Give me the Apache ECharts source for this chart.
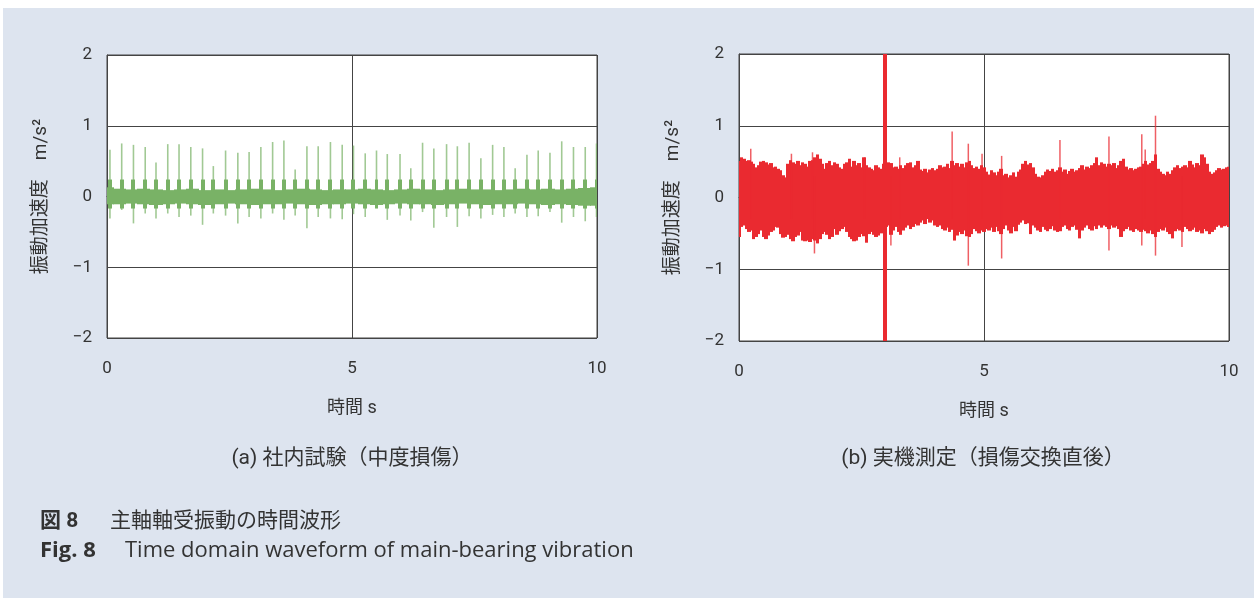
<!DOCTYPE html>
<html>
<head>
<meta charset="utf-8">
<title>主軸軸受振動の時間波形</title>
<script src="https://cdn.jsdelivr.net/npm/echarts/dist/echarts.min.js"></script>
<style>
  html, body { margin: 0; padding: 0; background: #fff; }
  #main { position: absolute; left: 3px; top: 8px; width: 1251px; height: 590px; background: #dde4ef; }
</style>
</head>
<body>
<div id="main"></div>
<script>
// 軸の目盛
var xTicks = [0, 5, 10];
var yTicks = [-2, -1, 0, 1, 2];

// (a) 社内試験: 0.25 s ごとのベース振動の上下包絡 [m/s2]
var aBandStep = 0.25;
var aBandHi = [0.13,0.11,0.10,0.11,0.10,0.09,0.10,0.11,0.09,0.10,0.09,0.10,0.11,0.10,0.09,0.10,0.11,0.10,0.09,0.10,
  0.10,0.11,0.10,0.09,0.10,0.11,0.10,0.09,0.10,0.11,0.10,0.10,0.09,0.10,0.11,0.10,0.11,0.10,0.11,0.12,0.13];
var aBandLo = [-0.11,-0.11,-0.10,-0.11,-0.12,-0.11,-0.10,-0.11,-0.12,-0.11,-0.10,-0.11,-0.12,-0.11,-0.11,-0.10,-0.11,-0.12,-0.11,-0.11,
  -0.10,-0.11,-0.12,-0.11,-0.10,-0.11,-0.11,-0.12,-0.11,-0.10,-0.11,-0.12,-0.11,-0.11,-0.10,-0.11,-0.12,-0.11,-0.12,-0.13,-0.13];

// (a) 衝撃パルス: 時刻 [s], 正側ピーク, 負側ピーク
var aSpikeT = [0.06,0.30,0.54,0.78,1.00,1.24,1.47,1.71,1.95,2.17,2.42,2.67,2.90,3.14,3.38,3.61,3.84,4.08,4.31,4.56,4.80,
  5.03,5.27,5.50,5.72,5.98,6.20,6.44,6.67,6.93,7.15,7.39,7.63,7.87,8.10,8.33,8.57,8.80,9.04,9.28,9.52,9.76,9.99];
var aSpikeHi = [0.66,0.75,0.73,0.70,0.48,0.74,0.74,0.70,0.68,0.43,0.65,0.62,0.63,0.70,0.77,0.79,0.38,0.71,0.71,0.77,0.73,
  0.72,0.61,0.65,0.60,0.60,0.40,0.76,0.68,0.74,0.71,0.76,0.54,0.73,0.70,0.40,0.59,0.65,0.62,0.78,0.70,0.70,0.75];
var aSpikeLo = [-0.31,-0.19,-0.38,-0.24,-0.31,-0.24,-0.29,-0.27,-0.40,-0.24,-0.27,-0.38,-0.29,-0.31,-0.24,-0.33,-0.27,-0.45,-0.29,-0.31,-0.32,
  -0.25,-0.29,-0.15,-0.33,-0.27,-0.34,-0.22,-0.44,-0.29,-0.43,-0.28,-0.31,-0.26,-0.29,-0.24,-0.29,-0.28,-0.22,-0.37,-0.29,-0.35,-0.29];
// パルス根元の太い部分 (正側, 負側)
var aCoreHi = 0.24;
var aCoreLo = -0.17;

// (b) 実機測定: 0.05 s ごとの上下包絡
var bStep = 0.05;
var bHi = [
  0.51,0.56,0.54,0.51,0.52,0.50,0.47,0.42,0.45,0.50, 0.51,0.49,0.46,0.48,0.42,0.43,0.40,0.38,0.31,0.28,
  0.47,0.52,0.49,0.47,0.51,0.45,0.49,0.47,0.43,0.51, 0.52,0.56,0.60,0.54,0.47,0.40,0.48,0.51,0.45,0.49,
  0.47,0.42,0.40,0.47,0.49,0.54,0.43,0.51,0.45,0.48, 0.42,0.56,0.45,0.42,0.40,0.38,0.45,0.42,0.40,0.47,
  0.45,0.49,0.48,0.42,0.43,0.40,0.45,0.41,0.45,0.48, 0.49,0.42,0.45,0.51,0.39,0.37,0.40,0.35,0.39,0.41,
  0.38,0.40,0.45,0.42,0.43,0.47,0.41,0.51,0.45,0.48, 0.43,0.47,0.42,0.49,0.51,0.45,0.41,0.43,0.40,0.45,
  0.42,0.36,0.32,0.38,0.35,0.31,0.36,0.40,0.31,0.33, 0.28,0.31,0.35,0.29,0.36,0.39,0.47,0.51,0.46,0.48,
  0.42,0.33,0.29,0.28,0.31,0.36,0.39,0.37,0.40,0.36, 0.38,0.42,0.36,0.39,0.33,0.37,0.40,0.36,0.38,0.41,
  0.45,0.39,0.43,0.41,0.45,0.48,0.56,0.45,0.49,0.47, 0.43,0.47,0.45,0.48,0.41,0.45,0.51,0.54,0.43,0.39,
  0.41,0.38,0.40,0.42,0.43,0.47,0.51,0.46,0.48,0.51, 0.60,0.40,0.36,0.33,0.31,0.36,0.33,0.38,0.42,0.45,
  0.41,0.43,0.45,0.42,0.51,0.46,0.42,0.48,0.45,0.60, 0.56,0.47,0.36,0.33,0.35,0.38,0.41,0.39,0.40,0.42,
  0.43];
var bLo = [
  -0.55,-0.41,-0.39,-0.44,-0.48,-0.46,-0.58,-0.55,-0.51,-0.46, -0.55,-0.58,-0.53,-0.48,-0.46,-0.41,-0.42,-0.51,-0.56,-0.55,
  -0.52,-0.58,-0.61,-0.55,-0.53,-0.48,-0.60,-0.61,-0.60,-0.62, -0.58,-0.60,-0.64,-0.58,-0.51,-0.48,-0.52,-0.58,-0.55,-0.44,
  -0.52,-0.47,-0.44,-0.41,-0.48,-0.55,-0.58,-0.61,-0.60,-0.55, -0.51,-0.54,-0.63,-0.51,-0.48,-0.52,-0.55,-0.53,-0.50,-0.46,
  -0.41,-0.39,-0.52,-0.46,-0.41,-0.48,-0.52,-0.46,-0.42,-0.39, -0.44,-0.41,-0.37,-0.39,-0.35,-0.32,-0.37,-0.30,-0.35,-0.32,
  -0.39,-0.41,-0.39,-0.44,-0.46,-0.42,-0.48,-0.45,-0.60,-0.53, -0.48,-0.51,-0.46,-0.54,-0.55,-0.51,-0.44,-0.47,-0.50,-0.46,
  -0.48,-0.44,-0.46,-0.42,-0.48,-0.41,-0.47,-0.51,-0.44,-0.39, -0.46,-0.50,-0.41,-0.47,-0.38,-0.35,-0.32,-0.37,-0.36,-0.51,
  -0.39,-0.42,-0.46,-0.48,-0.41,-0.45,-0.47,-0.44,-0.40,-0.46, -0.48,-0.47,-0.41,-0.39,-0.44,-0.46,-0.41,-0.39,-0.45,-0.57,
  -0.46,-0.42,-0.39,-0.44,-0.46,-0.40,-0.44,-0.39,-0.42,-0.39, -0.41,-0.44,-0.39,-0.42,-0.40,-0.44,-0.55,-0.47,-0.44,-0.41,
  -0.46,-0.48,-0.44,-0.46,-0.48,-0.45,-0.47,-0.50,-0.46,-0.51, -0.55,-0.48,-0.44,-0.46,-0.42,-0.48,-0.51,-0.57,-0.47,-0.44,
  -0.46,-0.48,-0.41,-0.44,-0.47,-0.45,-0.42,-0.48,-0.46,-0.50, -0.44,-0.47,-0.51,-0.48,-0.45,-0.41,-0.39,-0.42,-0.40,-0.39,
  -0.41];

// (b) 目立つ単発ピーク
var bSpikeT  = [0.24,1.07,1.50,1.54,2.56,3.10,3.28,4.35,4.68,4.96,5.36,6.55,7.55,8.22,8.29,8.50,9.04];
var bSpikeHi = [0.68,0.61,0.63,0.30,0.56,0.30,0.56,0.92,0.75,0.61,0.58,0.80,0.85,0.88,0.67,1.14,0.30];
var bSpikeLo = [-0.30,-0.30,-0.30,-0.78,-0.30,-0.67,-0.30,-0.30,-0.95,-0.30,-0.85,-0.30,-0.74,-0.67,-0.30,-0.81,-0.69];
// (b) 振り切れた衝撃 (軸範囲外まで)
var bCutT = [2.97];

var green = '#79b266';
var red = '#ea2a30';
var lineCol = '#444';
var fontFam = 'Roboto, "Noto Sans CJK JP", sans-serif';

function toCols(tArr, loArr, hiArr) {
  return tArr.map(function (t, i) { return [t, loArr[i], hiArr[i]]; });
}
function stepCols(step, loArr, hiArr) {
  return hiArr.map(function (h, i) { return [i * step, loArr[i], h]; });
}

// 縦の帯 (lo..hi) を描く。snap=true ならピクセル境界に合わせて継ぎ目を消す
function colRender(widthFn, color, opacity, snap) {
  return function (params, api) {
    var t = api.value(0);
    var top = api.coord([t, api.value(2)]);
    var bot = api.coord([t, api.value(1)]);
    var w = widthFn(api);
    var x0 = top[0] - w / 2, x1 = top[0] + w / 2;
    if (snap) {
      x0 = Math.floor(x0);
      x1 = Math.max(Math.ceil(x1), x0 + 1);
    }
    return {
      type: 'rect',
      shape: { x: x0, y: top[1], width: x1 - x0, height: bot[1] - top[1] },
      style: { fill: color, opacity: opacity }
    };
  };
}

function colSeries(idx, data, widthFn, color, opacity, snap) {
  return {
    type: 'custom', xAxisIndex: idx, yAxisIndex: idx,
    data: data, clip: true, silent: true, animation: false,
    encode: { x: 0, y: [1, 2] },
    renderItem: colRender(widthFn, color, opacity, snap)
  };
}

function minusFmt(v) { return v < 0 ? '\u2212' + Math.abs(v) : String(v); }

function xAxisOf(idx) {
  return {
    gridIndex: idx, type: 'value',
    min: xTicks[0], max: xTicks[xTicks.length - 1], interval: xTicks[1] - xTicks[0],
    name: '時間 s', nameLocation: 'middle', nameGap: 62,
    nameTextStyle: { fontSize: 18, color: '#333', fontFamily: fontFam },
    axisLine: { show: true, lineStyle: { color: lineCol } },
    axisTick: { show: false },
    axisLabel: { fontSize: 17, color: '#333', margin: 22, fontFamily: fontFam },
    splitLine: { show: true, lineStyle: { color: lineCol, width: 1 } }
  };
}
function yAxisOf(idx) {
  return {
    gridIndex: idx, type: 'value',
    min: yTicks[0], max: yTicks[yTicks.length - 1], interval: yTicks[1] - yTicks[0],
    name: '振動加速度　m/s\u00b2', nameLocation: 'middle', nameGap: 56, nameRotate: 90,
    nameTextStyle: { fontSize: 19, color: '#333', fontFamily: fontFam },
    axisLine: { show: true, lineStyle: { color: lineCol } },
    axisTick: { show: false },
    axisLabel: { fontSize: 17, color: '#333', margin: 15, formatter: minusFmt, fontFamily: fontFam },
    splitLine: { show: true, lineStyle: { color: lineCol, width: 1 } }
  };
}

var chart = echarts.init(document.getElementById('main'));

var one = function (px) { return function () { return px; }; };

chart.setOption({
  backgroundColor: '#dde4ef',
  animation: false,
  grid: [
    { left: 104, top: 47, width: 490, height: 283, show: true, backgroundColor: '#fff', borderColor: lineCol, borderWidth: 1 },
    { left: 736, top: 46, width: 490, height: 287, show: true, backgroundColor: '#fff', borderColor: lineCol, borderWidth: 1 }
  ],
  xAxis: [xAxisOf(0), xAxisOf(1)],
  yAxis: [yAxisOf(0), yAxisOf(1)],
  series: [
    colSeries(0, stepCols(aBandStep, aBandLo, aBandHi), function (api) { return api.size([aBandStep, 0])[0]; }, green, 1, true),
    colSeries(0, toCols(aSpikeT, aSpikeLo, aSpikeHi), one(1.6), green, 0.7, false),
    colSeries(0, aSpikeT.map(function (t) { return [t, aCoreLo, aCoreHi]; }), one(3), green, 1, true),
    colSeries(1, stepCols(bStep, bLo, bHi), function (api) { return api.size([bStep, 0])[0]; }, red, 1, true),
    colSeries(1, toCols(bSpikeT, bSpikeLo, bSpikeHi), one(1.5), red, 0.75, false),
    colSeries(1, bCutT.map(function (t) { return [t, yTicks[0], yTicks[yTicks.length - 1]]; }), one(3), red, 1, true)
  ],
  graphic: [
    { type: 'text', x: 349, y: 451, style: { text: '(a) 社内試験（中度損傷）', align: 'center', verticalAlign: 'middle', fontSize: 21, fontFamily: fontFam, fill: '#333' } },
    { type: 'text', x: 980, y: 451, style: { text: '(b) 実機測定（損傷交換直後）', align: 'center', verticalAlign: 'middle', fontSize: 21, fontFamily: fontFam, fill: '#333' } },
    { type: 'text', x: 37, y: 514, style: { text: '図 8', verticalAlign: 'middle', fontSize: 21, fontWeight: 'bold', fontFamily: fontFam, fill: '#333' } },
    { type: 'text', x: 107, y: 514, style: { text: '主軸軸受振動の時間波形', verticalAlign: 'middle', fontSize: 21, fontFamily: fontFam, fill: '#333' } },
    { type: 'text', x: 37, y: 543, style: { text: 'Fig. 8', verticalAlign: 'middle', fontSize: 22, fontWeight: 'bold', fontFamily: '"Open Sans", sans-serif', fill: '#333' } },
    { type: 'text', x: 122, y: 543, style: { text: 'Time domain waveform of main-bearing vibration', verticalAlign: 'middle', fontSize: 22, fontFamily: '"Open Sans", sans-serif', fill: '#333' } }
  ]
});
</script>
</body>
</html>
